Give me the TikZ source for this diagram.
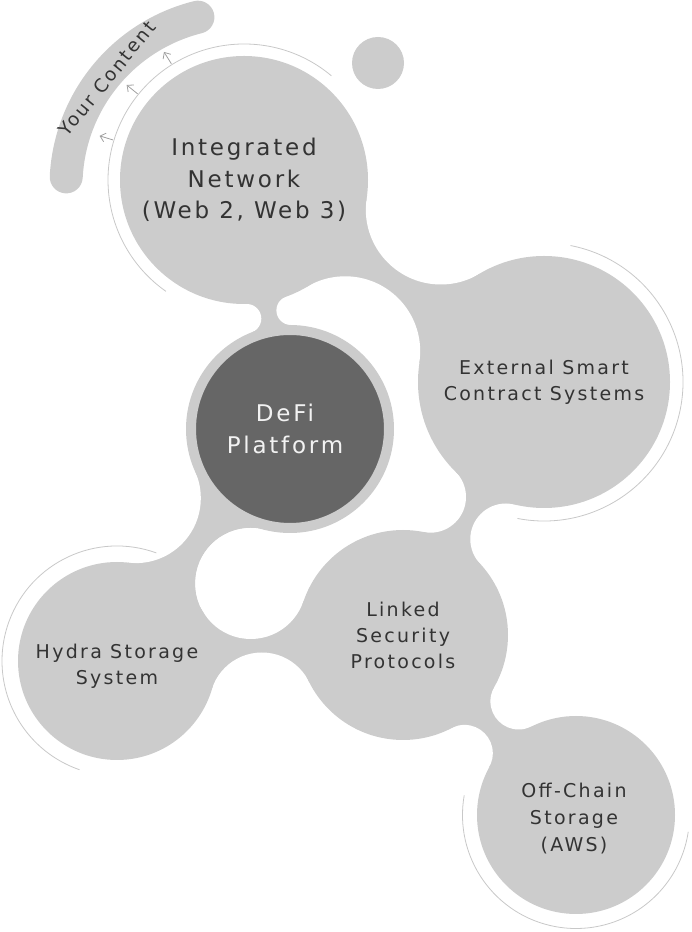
\documentclass[tikz,border=0pt]{standalone}
\usepackage{fontspec}
\setmainfont{DejaVu Sans}
\newfontfamily\labelfont[LetterSpace=12]{DejaVu Sans}
\usetikzlibrary{arrows.meta,backgrounds}
\definecolor{blobgray}{HTML}{CCCCCC}
\definecolor{coregray}{HTML}{666666}
\definecolor{textgray}{HTML}{333333}
\definecolor{linegray}{HTML}{C8C8C8}
\definecolor{arrowgray}{HTML}{A0A0A0}
\newcommand{\blobneck}[6]{%
  \fill[blobgray] (#1.center) -- (#3) -- (#2.center) -- (#5) -- cycle;
  \fill[white] (#3) circle[radius=#4] (#5) circle[radius=#6];}
\begin{document}
\begin{tikzpicture}[x=1pt, y=1pt,
  blob/.style={circle, fill=blobgray, inner sep=0pt, align=center, text=textgray},
  core/.style={circle, fill=coregray, draw=blobgray, line width=10pt, inner sep=0pt},
  orbit/.style={draw=linegray, line width=0.8pt},
  feed/.style={draw=arrowgray, line width=0.8pt, -{Straight Barb[length=5pt, width=9pt]}},
  tab/.style={draw=blobgray, line width=33pt, line cap=round},
  bigtext/.style={font={\labelfont\fontsize{23}{31.5}\selectfont}},
  smalltext/.style={font={\labelfont\fontsize{19}{26}\selectfont}}]
\useasboundingbox (0,0) rectangle (692,932);

\node[blob, bigtext, minimum size=248pt] (net) at (244,752) {Integrated\\Network\\(Web 2, Web 3)};
\node[blob, minimum size=52pt] (dot) at (378,869) {};
\node[core, minimum size=198pt] (hub) at (290,503) {};
\node[blob, smalltext, minimum size=252pt] (ext) at (544,550) {External Smart\\Contract Systems};
\node[blob, smalltext, minimum size=210pt] (sec) at (403,297) {Linked\\Security\\Protocols};
\node[blob, minimum size=198pt] (hydra) at (117,271) {};
\node[blob, minimum size=198pt] (aws) at (576,117) {};

\node[bigtext, align=center, text=white!95!black] (hubtext) at ([xshift=-5pt]hub.center) {DeFi\\Platform};
\node[smalltext, align=center, text=textgray] (hydratext) at ([yshift=-5pt]hydra.center) {Hydra Storage\\System};
\node[smalltext, align=center, text=textgray, font={\labelfont\fontsize{19}{27}\selectfont}] (awstext) at ([yshift=-4pt,xshift=-2pt]aws.center) {Off-Chain\\Storage\\(AWS)};

\coordinate (nd1) at (246.7,613.4);
\coordinate (nd2) at (291.0,621.6);
\coordinate (ne1) at (440.8,722.5);
\coordinate (ne2) at (345.2,580.7);
\coordinate (es1) at (430.3,435.0);
\coordinate (es2) at (506.0,392.8);
\coordinate (sa1) at (518.7,230.8);
\coordinate (sa2) at (464.5,178.8);
\coordinate (hh1) at (135.8,433.9);
\coordinate (gap) at (250.8,348.5);
\coordinate (hs1) at (261.9,227.0);
\coordinate (bandc) at (240,746);

\begin{scope}[on background layer]
\blobneck{net}{ext}{ne1}{75}{ne2}{75}
\blobneck{net}{hub}{nd1}{14.6}{nd2}{14.6}
\blobneck{ext}{sec}{es1}{35.7}{es2}{35.7}
\blobneck{sec}{aws}{sa1}{28.3}{sa2}{28.3}
\blobneck{hub}{hydra}{hh1}{65}{gap}{55.5}
\blobneck{hydra}{sec}{gap}{55.5}{hs1}{52.5}
\end{scope}

\draw[orbit] (net.center) ++(50:136) arc[start angle=50, end angle=235, radius=136];
\draw[orbit] (ext.center) ++(79:139) arc[start angle=79, end angle=-101, radius=139];
\draw[orbit] (hydra.center) ++(70:115) arc[start angle=70, end angle=251, radius=115];
\draw[orbit] (aws.center) ++(170:113.5) arc[start angle=170, end angle=351.5, radius=113.5];

\draw[tab] (bandc) ++(104:174) arc[start angle=104, end angle=177, radius=174];
\path (bandc) ++(141:171) node[rotate=51, text=textgray, font={\labelfont\fontsize{18.5}{20}\selectfont}] (tag) {Your Content};
\foreach \a in {122,141,163}{
\draw[feed] (net.center) ++(\a:137) -- ++(\a:14);
}
\end{tikzpicture}
\end{document}
